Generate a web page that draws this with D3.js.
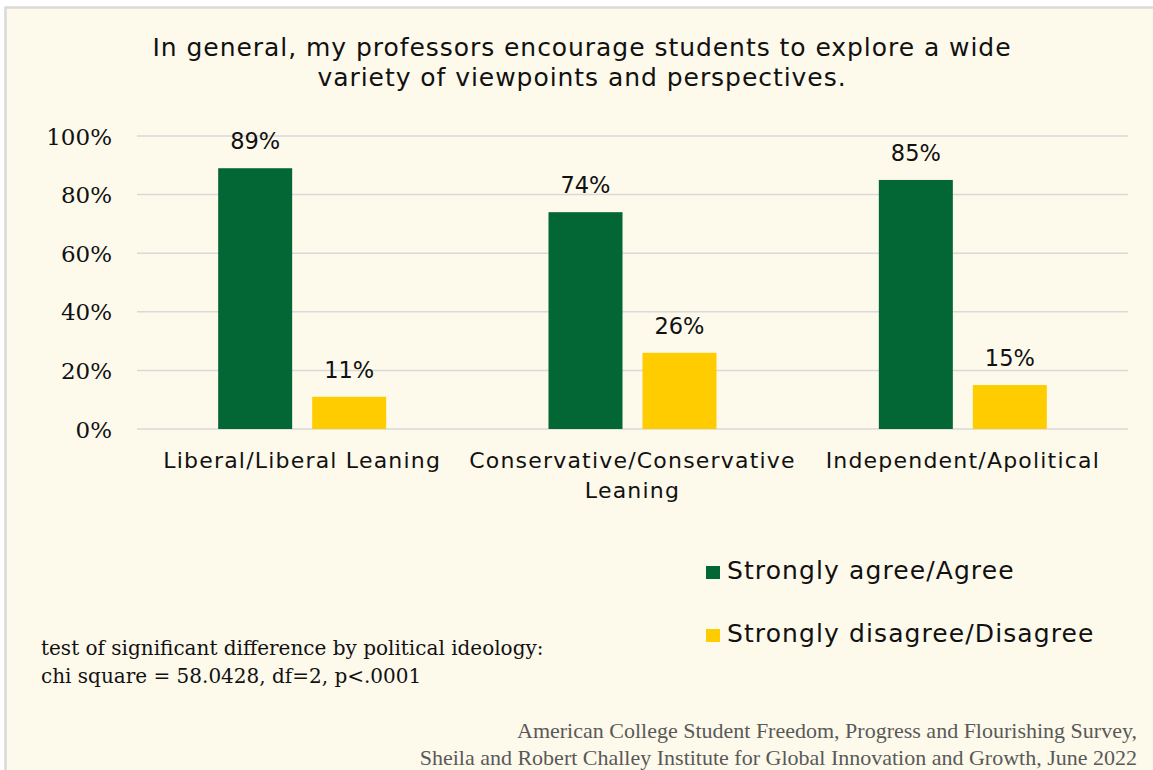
<!DOCTYPE html>
<html>
<head>
<meta charset="utf-8">
<script src="https://cdn.jsdelivr.net/npm/d3@7"></script>
<style>
  html, body { margin: 0; padding: 0; background: #ffffff; }
  svg { display: block; }
</style>
</head>
<body>
<svg id="chart" width="1153" height="770"></svg>
<script>
// Survey responses by political ideology
const categories = ["Liberal/Liberal Leaning", "Conservative/Conservative Leaning", "Independent/Apolitical"];
const seriesNames = ["Strongly agree/Agree", "Strongly disagree/Disagree"];
const agreeValues = [0.89, 0.74, 0.85];
const disagreeValues = [0.11, 0.26, 0.15];
const yTicks = [0, 0.2, 0.4, 0.6, 0.8, 1.0];
const titleLines = [
  "In general, my professors encourage students to explore a wide",
  "variety of viewpoints and perspectives."
];
const noteLines = [
  "test of significant difference by political ideology:",
  "chi square = 58.0428, df=2, p<.0001"
];
const sourceLines = [
  "American College Student Freedom, Progress and Flourishing Survey,",
  "Sheila and Robert Challey Institute for Global Innovation and Growth, June 2022"
];

const colors = ["#036635", "#ffcc00"];
const sansFont = "'DejaVu Sans', sans-serif";
const serifFont = "'DejaVu Serif', serif";

const svg = d3.select("#chart");
const W = 1153, H = 770;

// Panel background with light border
svg.append("rect")
  .attr("x", 5.5).attr("y", 7.5)
  .attr("width", W + 10).attr("height", H + 10)
  .attr("fill", "#fdf9eb")
  .attr("stroke", "#d9d9d9")
  .attr("stroke-width", 2.5);

const plot = { left: 137, right: 1128, top: 136, bottom: 429 };

const x0 = d3.scaleBand()
  .domain(categories)
  .range([plot.left, plot.right])
  .paddingInner(0)
  .paddingOuter(0);

// Two bars per group, 74px wide with a 20px gap
const x1 = d3.scaleBand()
  .domain(seriesNames)
  .range([x0.bandwidth() / 2 - 84, x0.bandwidth() / 2 + 84])
  .paddingInner(20 / 94)
  .paddingOuter(0);

const y = d3.scaleLinear().domain([0, 1]).range([plot.bottom, plot.top]);

// Gridlines
svg.append("g")
  .selectAll("line")
  .data(yTicks)
  .join("line")
  .attr("x1", plot.left).attr("x2", plot.right)
  .attr("y1", d => y(d)).attr("y2", d => y(d))
  .attr("stroke", "#d9d9d9")
  .attr("stroke-width", 1.5);

// Y axis labels
const yAxis = d3.axisLeft(y)
  .tickValues(yTicks)
  .tickFormat(d3.format(".0%"))
  .tickSize(0)
  .tickPadding(0);
const yAxisG = svg.append("g")
  .attr("transform", `translate(${plot.left - 25},0)`)
  .call(yAxis);
yAxisG.select(".domain").remove();
yAxisG.selectAll("text")
  .attr("font-family", serifFont)
  .attr("font-size", 23)
  .attr("fill", "#111")
  .attr("dy", "0.35em");

// Bars
const rows = categories.map((c, i) => ({
  category: c,
  values: [
    { series: seriesNames[0], value: agreeValues[i], color: colors[0] },
    { series: seriesNames[1], value: disagreeValues[i], color: colors[1] }
  ]
}));

const groups = svg.append("g")
  .selectAll("g")
  .data(rows)
  .join("g")
  .attr("transform", d => `translate(${x0(d.category)},0)`);

groups.selectAll("rect")
  .data(d => d.values)
  .join("rect")
  .attr("x", d => x1(d.series))
  .attr("width", x1.bandwidth())
  .attr("y", d => y(d.value))
  .attr("height", d => y(0) - y(d.value))
  .attr("fill", d => d.color);

groups.selectAll("text")
  .data(d => d.values)
  .join("text")
  .attr("x", d => x1(d.series) + x1.bandwidth() / 2)
  .attr("y", d => y(d.value) - 19)
  .attr("text-anchor", "middle")
  .attr("font-family", sansFont)
  .attr("font-size", 22.5)
  .attr("fill", "#111")
  .text(d => d3.format(".0%")(d.value));

// Category labels, wrapped to the band width
const catG = svg.append("g");
categories.forEach(c => {
  const cx = x0(c) + x0.bandwidth() / 2;
  const t = catG.append("text")
    .attr("x", cx)
    .attr("y", 468)
    .attr("text-anchor", "middle")
    .attr("font-family", sansFont)
    .attr("font-size", 22)
    .attr("letter-spacing", 1.2)
    .attr("fill", "#111");
  const words = c.split(" ");
  let line = [];
  let tspan = t.append("tspan").attr("x", cx).attr("dy", 0);
  words.forEach(w => {
    line.push(w);
    tspan.text(line.join(" "));
    if (tspan.node().getComputedTextLength() > x0.bandwidth() - 4 && line.length > 1) {
      line.pop();
      tspan.text(line.join(" "));
      line = [w];
      tspan = t.append("tspan")
        .attr("x", cx)
        .attr("dy", 30)
        .text(w);
    }
  });
});

// Title
svg.append("text")
  .attr("x", 582)
  .attr("y", 56)
  .attr("text-anchor", "middle")
  .attr("font-family", sansFont)
  .attr("font-size", 25)
  .attr("letter-spacing", 0.95)
  .attr("fill", "#111")
  .selectAll("tspan")
  .data(titleLines)
  .join("tspan")
  .attr("x", 582)
  .attr("dy", (d, i) => i === 0 ? 0 : 30)
  .text(d => d);

// Legend
const legend = svg.append("g").attr("transform", "translate(706,0)");
const legendRows = legend.selectAll("g")
  .data(seriesNames)
  .join("g")
  .attr("transform", (d, i) => `translate(0,${i === 0 ? 579 : 642})`);
legendRows.append("rect")
  .attr("x", 0).attr("y", -13)
  .attr("width", 14).attr("height", 13)
  .attr("fill", (d, i) => colors[i]);
legendRows.append("text")
  .attr("x", 21).attr("y", 0)
  .attr("font-family", sansFont)
  .attr("font-size", 25)
  .attr("letter-spacing", 1.1)
  .attr("fill", "#111")
  .text(d => d);

// Statistical note
svg.append("text")
  .attr("x", 41).attr("y", 655)
  .attr("font-family", serifFont)
  .attr("font-size", 20)
  .attr("fill", "#111")
  .selectAll("tspan")
  .data(noteLines)
  .join("tspan")
  .attr("x", 41)
  .attr("dy", (d, i) => i === 0 ? 0 : 28)
  .text(d => d);

// Source
svg.append("text")
  .attr("x", 1137).attr("y", 738)
  .attr("text-anchor", "end")
  .attr("font-family", "'Liberation Serif', serif")
  .attr("font-size", 22)
  .attr("fill", "#595959")
  .selectAll("tspan")
  .data(sourceLines)
  .join("tspan")
  .attr("x", 1137)
  .attr("dy", (d, i) => i === 0 ? 0 : 27)
  .text(d => d);
</script>
</body>
</html>
